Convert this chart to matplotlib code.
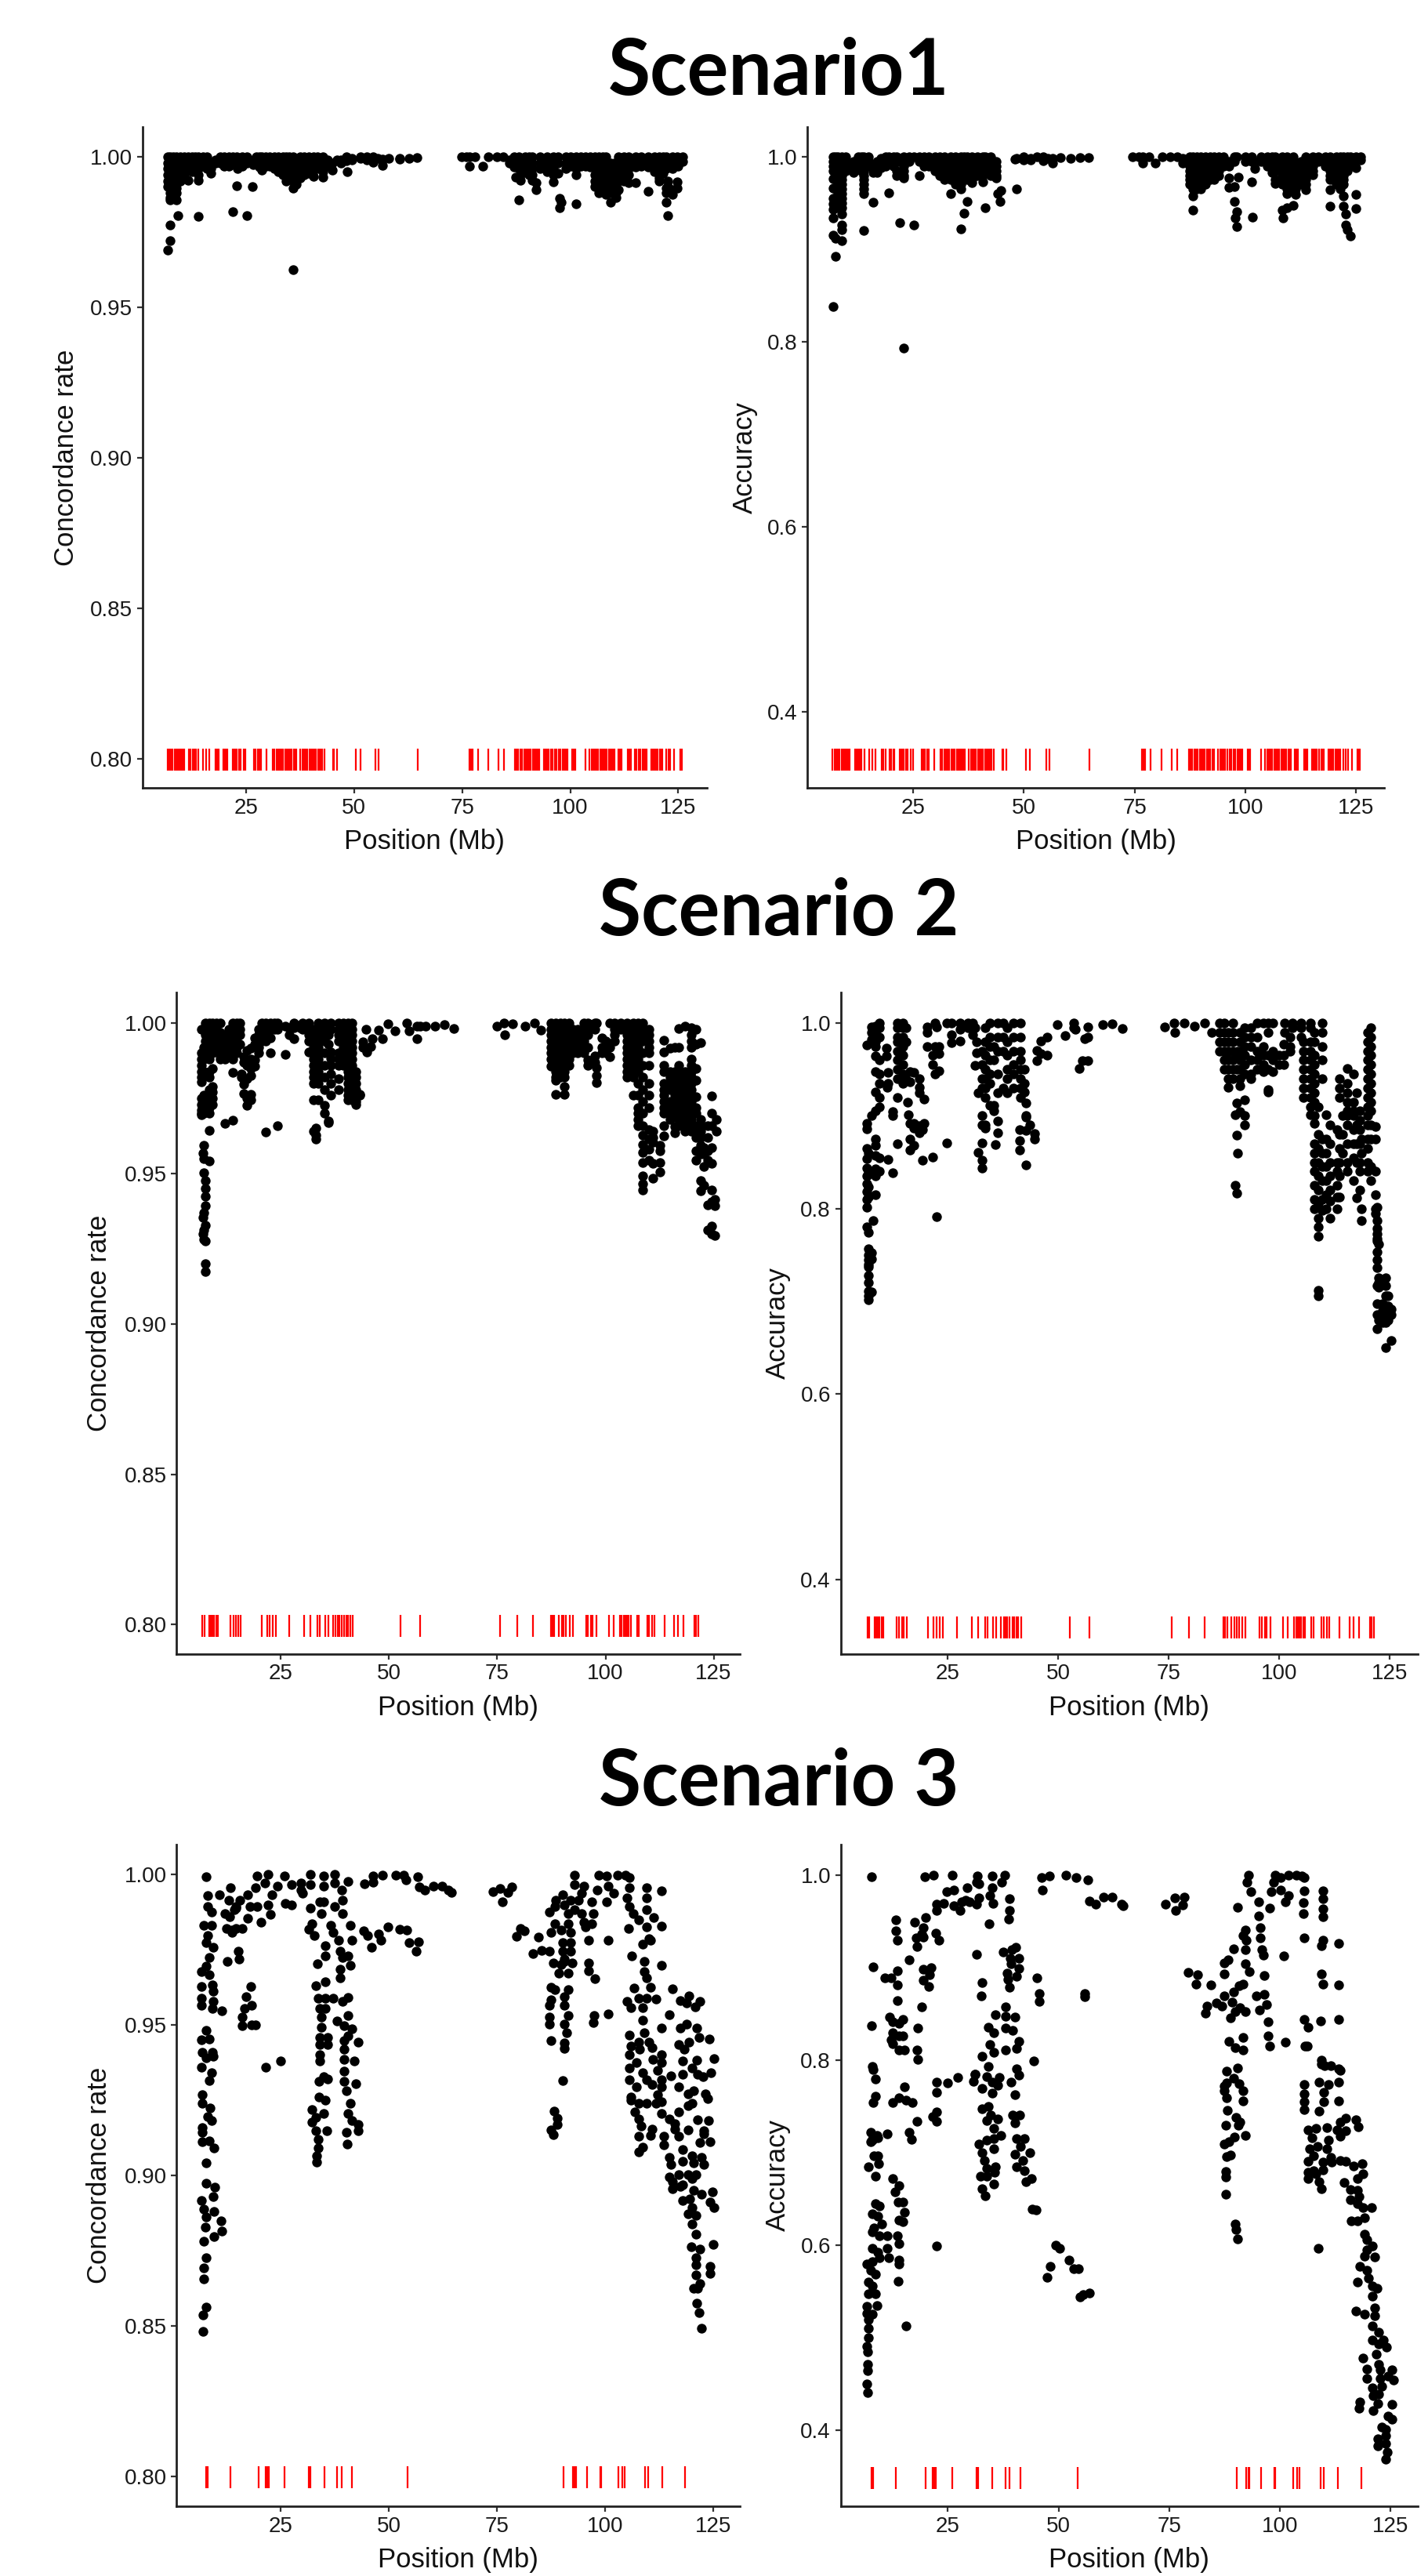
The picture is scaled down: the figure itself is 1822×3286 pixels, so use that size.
import matplotlib
matplotlib.use('Agg')
import matplotlib.pyplot as plt
import numpy as np

plt.rcParams['font.family'] = ['Liberation Sans', 'DejaVu Sans']

# marker positions (Mb), shared by both panels of a scenario
s1_markers = [6.8,7.2,7.6,8,8.4,8.8,9.2,9.6,10,10.3,10.6,11.8,12.2,12.6,13,13.3,14,15,15.7,16.5,17.9,18.3,18.7,19.7,20.1,20.5,20.7,
    21.9,22.3,22.6,22.9,23.4,23.7,24.5,24.9,26.9,27.2,27.7,28.1,28.5,29.7,31.2,31.6,32,32.4,32.8,33.2,33.6,34,34.4,34.8,35.2,35.6,36,36.3,36.6,
    37.6,38,38.4,38.8,39.2,39.6,40,40.4,40.8,41.2,41.6,42,42.3,42.6,43.2,45.1,45.4,46.1,50.4,51.4,55,55.7,64.8,76.7,77,77.4,78.6,81.1,83.4,84.6,
    87.2,87.6,88,88.5,88.9,89.3,89.7,90.1,90.5,90.9,91.3,91.7,92.1,92.5,92.9,93.9,94.3,94.7,95.1,95.5,95.9,96.4,96.8,97.3,97.8,98.2,98.6,99,99.3,
    100.5,100.8,101.1,103.5,104.5,104.9,105.3,105.7,106.1,106.5,106.9,107.3,107.7,108.1,108.5,108.9,109.3,109.7,110,110.3,111.1,111.5,111.8,113.3,113.7,114,
    115,115.4,115.8,116.2,116.7,117.1,117.4,117.7,118.7,119.1,119.5,119.9,120.3,120.7,121.1,121.4,122.2,122.7,123.2,124,125.4,125.7,125.9]
s2_markers = [6.8,7.3,8.4,8.8,9.2,9.6,10,10.4,13.4,14,14.6,15.1,15.7,20.6,21.8,22.4,23.1,23.8,27,30.4,31.8,33.5,34,35.3,35.9,37,37.7,38.1,38.5,39,39.6,
    40.1,40.6,41,41.6,52.7,57.1,75.7,79.6,83.2,87.4,87.8,88.2,89.2,89.9,90.4,90.9,91.7,92.4,95.6,96,96.7,97.1,98,100.9,101.9,103.4,103.8,104.2,104.6,105,105.4,105.9,
    107.3,107.7,109.6,110,110.7,111.3,113.6,115.9,116.8,118.1,120.5,120.9,121.4]
s3_markers = [7.8,8.1,13.3,19.9,21.5,21.9,22.3,25.9,31.5,31.8,35.1,38,39,41.4,54.3,90.3,92.5,92.9,93.2,95.8,98.8,99,103.1,104,104.5,109.2,109.9,113.2,118.5]

# scenario 1, (position, [values at that position])
s1_conc = [(6.9,[.969,1,.998,.996,.994,.992,.99]),(7.4,[1,.9985,.997,.9955,.994,.9925,.991,.9895,.988,.9865,.9857,.9774,.9722]),
    (8.2,[1,.998,.996,.994,.992,.99,.988,.987]),(8.8,[1,.9985,.997,.9955,.994,.9925,.991,.9895,.988,.9857]),(9.2,[.9804]),
    (9.8,[1,.998,.996,.994,.992]),(10.6,[1,.998,.996,.994]),(11.6,[1,.998,.996,.9923]),(12.5,[1,.998,.996,.995]),(13.2,[1,.998,.996]),
    (14,[1,.998,.996,.994,.9923,.9803]),(15,[1,.998,.997]),(16,[1,.998,.996]),(16.8,[.9945,.996,.998]),(18,[.999,.998]),(19,[1,.998]),
    (20,[1,.998,.997]),(21,[1,.998,.997]),(21.9,[1,.998,.9819]),(22.8,[1,.998,.997,.9903]),(23,[.996]),(24,[1,.998,.997]),(25.2,[1,.998,.9806]),
    (26.5,[.9901]),(26.7,[.9974,.999]),(27.3,[1,.998]),(28,[1,.998,.9965]),(28.7,[.9955,1]),(29.5,[1,.998,.997]),(30.5,[1,.998,.997]),
    (31.5,[1,.998,.996]),(32.5,[1,.998,.996,.995]),(33.5,[1,.998,.996,.994]),(34.2,[1,.998,.996,.994,.992]),(35,[1,.998,.996,.994]),
    (35.8,[.9626,.9897,.992,.994,.996,.998,1]),(36.6,[.9909,.993,.995,.997,.999]),(37.5,[1,.998,.996,.994,.993]),(38.5,[1,.998,.996,.994]),
    (39.5,[1,.998,.996,.9945]),(40.6,[1,.998,.996,.9935]),(41.5,[1,.998,.996]),(42.8,[1,.998,.996,.995,.9932]),(43.8,[.999,.997]),(44.9,[.9955,.998]),
    (46,[.999]),(47,[.999,.998]),(48.2,[1,.9987]),(48.4,[.995]),(49.5,[.9995,.999]),(51.5,[1,.9995]),(53,[1,.999]),(54.3,[1,.9983]),(55.5,[.9995]),
    (56.5,[.9992,.9972]),(58,[.9995]),(60.5,[.9996,.9991]),(62.7,[.9994]),(64.5,[.9997]),
    (74.8,[1]),(76,[1]),(76.7,[.9968,1]),(78,[1]),(79.7,[.9968]),(81,[1]),(83,[1]),(84.5,[1]),(86,[.999,.998]),
    (87,[1,.998,.9965]),(87.4,[.9932]),(88.1,[1,.998,.996,.9858]),(88.4,[.9923,.994]),(89.5,[1,.998,.996]),(90.5,[1,.998,.996,.994]),
    (91.2,[1,.998,.996,.994,.9923]),(92.1,[.989,.9915]),(93,[1,.998,.996]),(94.6,[1,.998,.996,.995]),(96.1,[1,.998,.996,.9917,.994]),(97.1,[1,.998,.9945]),
    (97.6,[.9861,.983]),(98,[.985]),(99,[1,.998,.996]),(100,[1,.998,.997]),(101.3,[1,.998,.996,.9939,.9843]),(102.5,[1,.998,.997]),(103.5,[1,.998,.997]),
    (104.7,[1,.998,.9965]),(105.8,[1,.998,.996,.9902,.994,.992]),(106.6,[1,.998,.996,.994,.992,.99,.988]),(107.5,[1,.998,.996,.994,.992,.99]),
    (108.3,[1,.998,.996,.994,.992,.99,.9874]),(109.3,[.998,.996,.994,.992,.99,.988,.9848]),(110.2,[.998,.996,.994,.992,.99]),(110.6,[.9865,.988]),
    (111.1,[1,.998,.996,.994,.992,.9891]),(112.5,[1,.998,.996,.994,.992]),(113.5,[1,.998,.996,.994,.9915]),(115.2,[1,.998,.9965,.9913]),(116.5,[1,.998,.997]),
    (118,[1,.998,.9965,.9885]),(119.5,[1,.998,.9965,.995]),(120.5,[1,.998,.9965,.995,.993,.992]),(121.5,[1,.998,.996,.9945]),(122.2,[1,.998,.996,.9895,.988,.9848]),
    (122.5,[.9804,.992,.99]),(123.7,[1,.998,.996,.9874,.989]),(124.7,[1,.998,.9917,.9897]),(125,[.997,.9985]),(126,[1,.9985])]

s1_acc = [(6.9,[1,.995,.99,.985,.976,.966,.955,.949,.943,.934,.915,.838]),(7.4,[1,.995,.99,.985,.98,.912,.8925]),
    (8,[1,.995,.99,.985,.98,.975,.97,.965,.96,.955,.95,.945]),(8.9,[1,.995,.99,.985,.98,.975,.97,.965,.96,.955,.95,.945,.9378,.9264,.9208,.9095]),
    (9.8,[1,.995,.99,.985]),(11.5,[.995,.99,.983]),(12.5,[1,.995,.99]),(13.3,[1,.995,.99,.985]),(13.9,[1,.995,.99,.985,.98,.975,.97,.965,.96,.92]),
    (14.8,[1,.995,.99]),(15.9,[.99,.983,.951]),(16.8,[.995,.983]),(17.8,[.998,.993,.988]),(18.7,[1,.995,.99]),(19.5,[1,.995,.961]),(20.5,[1,.995,.99]),
    (21.2,[1,.995,.985,.98]),(21.9,[.9287,.995]),(22.8,[1,.995,.99,.985,.98,.977,.7935]),(24,[1,.995]),(25.2,[1,.9259]),(26.4,[1,.995,.9793]),(27.5,[1,.995,.99]),
    (28.5,[1,.995,.99]),(30,[1,.995,.99,.985]),(31,[1,.995,.99,.985,.98]),(32,[1,.995,.99,.985,.98,.975]),(33.5,[1,.995,.99,.985,.98,.975,.9598]),
    (34.5,[1,.995,.99,.985,.98,.975,.97]),(35.8,[1,.995,.99,.985,.98,.975,.97,.965,.922]),(36.5,[1,.995,.99,.985,.98,.975,.9392]),(37.2,[1,.995,.99,.985,.98,.975,.9513]),
    (38.3,[1,.995,.99,.985,.98,.975,.9717]),(39.5,[1,.995,.99,.985,.98]),(40.7,[1,.995,.99,.985,.98,.9731]),(41.2,[1,.995,.99,.9446]),(42.5,[1,.995,.99,.985,.98]),
    (43.8,[.995,.99,.985,.98,.9768]),(44.1,[.9604]),(44.6,[.9519]),(44.8,[.9638]),(48,[.9975]),(48.4,[.9652,.998]),(50,[1,.997]),(51.5,[.998,.997]),
    (53,[1]),(54.4,[1,.996]),(55.5,[.998]),(56.5,[.993,.998]),(58.3,[.999]),(60.5,[.998]),(62.7,[.999]),(64.6,[.9995]),
    (74.6,[1]),(76,[1]),(76.8,[.997,.993,1]),(78.3,[1]),(79.7,[.993]),(81.2,[1]),(83,[1]),(84.6,[1]),(85.8,[.993,.998]),
    (87.5,[1,.995,.99,.985,.98,.975,.97]),(88.2,[1,.995,.98,.97,.965,.9576,.9426]),(89,[1,.995,.99,.985,.98,.975,.97,.965]),(90,[1,.995,.99,.985,.98,.975,.97,.965]),
    (91,[1,.995,.99,.985,.98,.975,.97]),(92,[1,.995,.99,.985,.98,.975]),(93,[1,.995,.99,.985,.98,.975]),(94,[1,.995,.99,.985,.98]),(95,[1,.995,.99]),
    (96.3,[.995,.99,.9768,.967]),(97.5,[1,.995,.968,.9513]),(98.1,[1,.9406,.9245]),(97.7,[.9335]),(98.4,[.978]),(100,[1,.995]),(101.4,[1,.995,.9731]),(101.6,[.9349]),
    (102.1,[.995,.9873]),(103.5,[1,.995]),(105,[1,.995,.99]),(106,[1,.995,.99,.983]),(106.8,[1,.995,.99,.985,.975,.9709]),(108.3,[1,.995,.99,.985,.98,.975,.97,.942]),
    (108.5,[.9335]),(109.4,[1,.995,.99,.985,.98,.975,.97,.965,.9604,.9448]),(110.9,[1,.995,.99,.985,.98,.975,.97,.965,.9471]),(111.4,[.985,.98,.975,.97,.965,.959]),
    (112.5,[.995,.99,.985,.98,.975,.97]),(113.6,[1,.995,.99,.985,.98,.975,.97,.9646]),(115.3,[1,.995,.99,.985,.9802]),(116.5,[1,.995]),(118,[1,.995,.99]),
    (119.2,[1,.995,.99,.985,.98,.975,.9646,.9468]),(120.5,[1,.995,.99,.985,.98,.975,.97]),(121.5,[1,.995,.99,.985,.98,.975,.97,.965]),
    (122.2,[1,.995,.99,.985,.98,.975,.97,.9576,.9463]),(122.7,[.9378,.9264]),(123,[1,.995,.985,.9208]),(123.8,[1,.995,.99,.9146]),(124.9,[1,.995,.9885,.959,.944]),(126,[1,.997])]

# scenario 2
s2_conc = [(6.6,[.998,.99,.988,.986,.984,.982,.9805,.975,.973,.971,.97,.9695]),(7.2,[.992,.988,.984,.976,.974,.972,.97,.9594,.955,.9502,.937,.9311,.928]),
    (7,[.9567,.9354,.9298]),(7.6,[1,.998,.996,.994,.992,.9476,.945,.9424,.9393,.9328,.9276,.92,.9174]),
    (8.5,[1,.998,.996,.994,.992,.99,.988,.984,.982,.978,.976,.974,.972,.97,.9642,.9541]),(9.2,[1,.998,.996,.994,.992,.99,.985,.979,.977,.975,.973]),
    (10,[1,.998,.996,.994,.992]),(11,[1,.997,.995,.993,.991,.989,.988]),(12,[.996,.994,.992,.99,.988,.9666]),(13,[.998,.995,.992,.989]),
    (13.8,[1,.998,.996,.994,.992,.99,.988,.9835,.9678]),(14.8,[1,.998,.996,.994,.992,.99]),(15.6,[1,.998,.996,.993]),(16.5,[.9887,.987,.9796,.9766]),(15.9,[.9831,.982]),
    (17.2,[.991,.986,.9814,.9727,.975]),(18,[.9918,.988,.985,.9827,.9763,.9746]),(19,[.995,.993,.9879,.9857]),(19.8,[.998,.996,.994,.992,.99]),(20.5,[1,.998,.996,.994]),
    (21.5,[1,.998,.996,.994,.9638]),(22.6,[1,.998,.995,.9902]),(23.5,[1,.998]),(24.3,[1,.998,.9659]),(26,[.999,.9896]),(27,[.9985,.996]),(28,[1,.9985,.9948]),
    (29.5,[.999,.9985]),(30,[1,.998]),(31.4,[1,.998,.9905,.996,.994]),(32.5,[.998,.996,.994,.992,.99,.988,.986,.984,.982,.98,.9744,.964]),(33,[.9627,.9614,.965]),
    (33.7,[1,.998,.996,.994,.992,.99,.988,.986,.984,.982,.98,.9744]),(35,[1,.998,.996,.994,.99,.986,.982,.978,.9727,.97]),(36,[.9985,.996,.993,.9668,.9675]),
    (36.6,[1,.998,.9905,.9883,.986,.9831,.98,.976]),(38.4,[1,.998,.996,.994,.99,.988,.986,.9814,.9779]),(39.5,[1,.998,.996,.994,.992,.99,.988,.986]),
    (40.6,[1,.998,.996,.994,.992,.99,.988,.986,.984,.982,.98,.978,.976,.9744]),(41.5,[1,.998,.996,.994,.992,.99,.988,.986,.984,.982,.98,.978,.976,.9744]),
    (42.3,[.984,.982,.98,.978,.976,.974,.973]),(43.2,[.976,.9762]),(44.6,[.998]),(44,[.9939,.992]),(44.9,[.9905]),(45.7,[.9922]),(46.2,[.9948]),(48.4,[.9948]),(47.5,[.9978]),
    (49.7,[.9997]),(51.3,[.9974]),(54.1,[1]),(54.6,[.9974]),(56.5,[.9948,.999]),(57.2,[.9991]),(58.5,[.9989]),(60.6,[.9991]),(62.7,[.9994]),(65,[.9983]),
    (74.9,[.9991]),(76.6,[1]),(76.8,[.9961]),(78.6,[.9997]),(81.5,[.9991]),(83.7,[1]),(85,[.9978]),
    (87.5,[1,.998,.996,.994,.992,.99,.988,.9857]),(88.5,[1,.998,.996,.994,.992,.99,.988,.986,.984,.982,.981,.9763]),(89.5,[1,.998,.996,.994,.992,.99,.988,.986,.984,.982]),
    (90.5,[1,.998,.996,.994,.992,.99,.988,.986,.984,.982,.9788,.9762]),(91.5,[1,.998,.996,.994,.992,.99,.988,.986]),(92.5,[.998,.996,.994,.992,.99]),(93.5,[.998,.996,.994,.992,.99]),
    (95,[1,.998,.996,.994,.992,.99]),(96,[1,.998,.996,.992,.9879,.986]),(97.5,[1,.998,.9892,.987]),(98,[1,.9853,.9827,.9801]),(99.2,[.995,.992,.99]),(100,[.994,.99]),
    (101,[1,.9887,.992]),(102,[1,.998,.996,.994]),(103.5,[1,.998]),(105,[1,.998,.996,.994,.992,.99,.988,.986,.984,.982]),(106.5,[1,.998,.996,.994,.992,.99,.988,.986,.984,.982,.976]),
    (107.5,[1,.998,.996,.994,.992,.99,.988,.986,.984,.98,.976,.972,.97,.968,.966]),(108.6,[1,.998,.996,.994,.99,.986,.982,.978,.974,.97,.966,.9627,.9597,.957,.9536,.9493,.9467,.9445]),
    (110,[.998,.996,.994,.992,.99,.986,.98,.976,.972,.9645,.9615,.958,.9545]),(111,[.964,.962,.9603,.9535,.9484]),(112.5,[.9595,.9575,.9536,.9505]),
    (113.5,[.9944,.9905,.986,.984,.98,.978,.976,.974,.972,.97,.966,.9625]),(115,[.9918,.984,.982,.98,.978,.974,.972,.97,.968]),(116,[.992,.984,.982,.98,.978,.976,.974,.972,.97,.9655,.9635]),
    (117,[.9983,.992,.986,.984,.982,.98,.978,.976,.974,.972,.97,.968,.966]),(118.3,[.9991,.984,.982,.98,.978,.976,.974,.972,.97,.968,.966,.964]),
    (119.8,[.9985,.996,.994,.992,.988,.986,.984,.982,.98,.978,.976,.974,.972,.97,.968,.966,.964]),(121,[.998,.993,.985,.981,.9755,.972,.97,.966,.964,.962,.9575,.9545]),
    (122,[.9935,.968,.966,.964,.962,.9595,.9565,.9477,.9443]),(122.8,[.9585,.9565,.9523,.9462]),(123.7,[.966,.962,.9575,.9545,.9395,.9313]),
    (124.5,[.9759,.97,.966,.9585,.9533,.9445,.9405,.9325,.93]),(125.3,[.9415,.9393,.9295]),(125.7,[.968,.964])]

s2_acc = [(6.6,[.976,.8915,.886,.8648,.8535,.8437,.8352,.8268,.8183,.8099,.8014,.7803]),(7,[.7746,.7563,.75,.745,.74,.737,.728,.72,.7113,.7056,.7014,.812,.823,.84,.86]),
    (7.8,[.996,.99,.982,.9,.752,.746,.71]),(8.1,[.7868]),(8.7,[.997,.99,.98,.975,.9648,.9479,.9254,.9056,.875,.868,.857,.843,.835,.815]),
    (9.5,[1,.995,.985,.96,.945,.935,.92,.91,.855,.84]),(11.2,[.9732,.9648]),(11.5,[.947,.935,.853]),(11.3,[.931]),(12.6,[.9042,.9,.8386]),(13.6,[1,.995,.985,.98,.97,.96,.95,.94,.9197,.8696]),
    (14.8,[1,.995,.985,.975,.965,.955,.945,.935]),(15.6,[.9394,.995,.98]),(15.9,[.9146]),(16.1,[.9014]),(16.5,[.9479,.937,.8915,.875,.8634]),(17.3,[.947,.8915,.8865,.868]),(18.5,[.94,.931,.925,.8895,.882]),
    (19.2,[.8521,.8855]),(19.7,[.9183,.8915]),(20.4,[.9901,.9958,.975]),(21.5,[.8558,.965,.955]),(22.1,[1,.975,.945]),(22.5,[.7915,.9958]),(23,[.975,.967,.9483]),(24.8,[.871,1]),(25.9,[1,.9873,.9789]),
    (27.7,[1,.9803,.993]),(29.5,[1,.995]),(30.7,[1,.9873]),(31.1,[.9541,.995]),(31.5,[.9676,.98]),(31.9,[.8606,.925]),(32.8,[.93,.9,.89,.8704,.8521,.8437,.97,.955,.94]),
    (33.5,[.995,.98,.965,.95,.94,.93,.92,.89,.8865]),(34.5,[1,.985,.975,.96,.945,.935,.9113]),(35.4,[.975,.96,.9113,.905]),(35.8,[.869]),(36.3,[1,.985,.97,.945,.925,.8944,.8817]),
    (37.5,[1,.985,.97,.93]),(38.5,[.995,.98,.965,.95,.94,.925]),(39.8,[1,.985,.97,.955,.945,.93]),(41.4,[1,.985,.97,.96,.95,.94,.93,.92]),(41.2,[.8634,.873,.885]),(42.3,[.95,.935,.9254]),
    (42.7,[.9141,.9,.8986,.8473,.8845]),(43.6,[.8901]),(44.6,[.8746,.881]),(45.1,[.9705,.9592]),(46,[.981,.967]),(47.5,[.985,.965]),(49.8,[.998]),(51.6,[.9868]),(53.5,[1,.995]),(53.9,[.993]),
    (54.8,[.9507]),(55.5,[.9592]),(56,[.9831]),(56.7,[.9592,.9958,.985]),(60,[.998]),(62.2,[.999]),(64.5,[.9944]),
    (74.1,[.9958]),(76.2,[1]),(76.4,[.9901]),(78.5,[1]),(80.8,[.997]),(83.2,[1]),(84.7,[.9901]),(86.5,[1,.99,.98,.97]),(87.5,[1,.99,.98,.97,.96,.95]),(88.5,[.99,.98,.97,.96,.95,.94,.931]),
    (89.5,[1,.99,.98,.97,.96,.95,.94]),(90.4,[.9141,.8789,.8169,.965,.95]),(90.6,[.97,.8597]),(90,[.8254,.9014]),(91.1,[.99,.98,.97,.96,.95,.94,.9324,.9045]),(92.2,[.995,.985,.975,.965,.955,.945,.9169,.8901,.9]),
    (93.5,[.995,.985,.975,.96,.945,.94]),(95,[1,.985,.97,.96,.95]),(96.5,[1,.975,.965,.955,.948]),(97.5,[1,.99,.9259,.9285,.965,.95]),(98.5,[1,.97,.96,.948]),(99.9,[.965,.955]),(101,[.977,.965,.955]),(102.4,[.985,.975,.97]),
    (101.2,[1,.99]),(103,[1,.995]),(105,[1,.995,.985]),(105.5,[.98,.97,.96,.95,.94,.93,.92]),(107,[.98,.97,.96,.95,.94,.93,.92,.91,.9014,1,.995]),(108,[.99,.98,.965,.955,.945,.935,.925,.915,.9,.8915,.87,.86,.85,.84,.825,.81,.8]),
    (108.9,[.7056,.712,.91,.88,.865,.85,.835,.82,.805,.79,.78,.77]),(109.8,[1,.99,.975,.96,.94,.875,.86,.845,.83,.81,.798]),(110.6,[.9014,.875,.86,.845,.83,.815,.8]),(111.5,[.89,.87,.85,.835,.82,.808,.79]),
    (113,[.885,.85,.84,.825,.812,.8]),(113.6,[.94,.93,.92,.88,.865,.85,.835,.812]),(114.4,[.9,.88,.86]),(115.4,[.9507,.935,.925,.915,.905,.9,.89,.87,.85,.84]),(116.8,[.945,.915,.905,.9,.885,.87,.855,.83]),
    (117.5,[.8113,.925,.89,.87,.85]),(118.2,[.905,.895,.885,.87,.85,.84,.82]),(118.6,[.7873,.8,.86,.875]),(120,[.99,.98,.97,.96,.95,.94,.93,.92,.91,.9,.89,.875,.865,.85,.84]),(120.8,[.995,.985,.975,.965,.955,.945,.935,.925,.915,.905,.89,.875,.845,.83]),
    (121.7,[.8885,.875,.84,.815,.795,.8]),(122.1,[.8014,.7873,.7789,.7725,.768,.7648,.7535,.7451,.7366,.7169,.6704,.6972,.6859]),(122.5,[.7615,.7254,.715,.685,.68,.72]),(123.3,[.6972,.69,.68,.6775]),(124,[.7169,.7056,.695,.685,.6775,.6501,.7254,.6859]),
    (124.7,[.7056,.695,.6859,.68]),(125.3,[.6859,.6915,.6577])]

# scenario 3
s3_conc = [(7.7,.9991),(8.1,.9929),(8.1,.9893),(9,.9876),(7.2,.9831),(9,.9831),(8.1,.9797),(7.7,.9774),(9.4,.9757),(8.5,.9724),(7.7,.9695),(6.6,.9676),(8.5,.9667),(6.6,.9628),(9.2,.9633),(9.4,.9611),
    (6.6,.9588),(6.6,.9566),(9.4,.9577),(9.2,.9554),(11.4,.9547),(7.8,.9481),(6.6,.945),(8.5,.9453),(6.8,.9410),(9.2,.9410),(7.7,.939),(9.4,.9396),(6.6,.9360),(9,.934),(8.5,.9314),
    (6.8,.9267),(6.8,.9239),(8.7,.9225),(8.1,.9196),(9,.9182),(6.8,.9160),(6.8,.9143),(6.9,.9111),(8.5,.9115),(9.6,.9092),(7.8,.9041),(7.7,.8974),(9.8,.8962),(9.4,.8929),(6.6,.8917),(7.2,.8889),(9.6,.888),(7.7,.8861),
    (11.2,.8849),(7.5,.8827),(11.3,.8815),(9.6,.8798),(7.2,.8782),(7.7,.8726),(7.2,.8692),(7.2,.8655),(7.7,.8563),(7,.8537),(7.1,.8481),
    (13.4,.9957),(10.9,.9932),(12.9,.9915),(12,.9869),(14.7,.9893),(15.6,.9915),(13.2,.9859),(12.5,.9820),(13.8,.9808),(14.7,.982),(16,.9820),(14.7,.9887),(15.1,.9745),(15.3,.9718),(12.7,.9710),(14.2,.9882),(13.8,.9814),
    (17.3,.9932),(17.8,.9893),(17.3,.9853),(19.5,.9893),(19.1,.9955),(19.5,.9994),(22.1,1),(21.3,.9972),(22.1,.9898),(20.4,.9842),(22.6,.9868),(24.3,.9960),(23,.9932),(25.9,.9994),(26.1,.9904),(27.4,.9966),(27.4,.9898),
    (29.6,.9972),(30,.9938),(31.8,.9999),(31.8,.9966),(29.6,.9949),
    (18,.9628),(16.9,.9594),(18.2,.9566),(16.6,.9554),(16,.9526),(16,.9498),(18.2,.95),(19.2,.95),(21.5,.9360),(24.9,.9380),
    (34.9,.9994),(34,.9910),(34.9,.9960),(37.5,1),(37.5,.9972),(40.6,.9977),(39,.9949),(34.9,.9910),(37.5,.9893),(39.3,.9915),(31.8,.9887),(34.4,.9870),(39.3,.9870),(32.2,.9836),(31.4,.9817),(36.6,.9831),(41,.9831),
    (32.7,.9797),(37.1,.9808),(38.4,.978),(35.3,.9763),(41.5,.978),(44.1,.9812),(45,.9797),(45.9,.9758),(47.6,.9803),(48.1,.978),(49.8,.9825),(52.4,.9819),(54.2,.9816),(54.6,.9774),(56.8,.9777),(56.2,.9746),
    (44.3,.9968),(46.3,.9994),(46.3,.9973),(48.5,.9998),(51.6,.9998),(53.3,.9998),(54,.9983),(56.6,.9992),(57,.9958),(58.3,.9947),(60.2,.996),(62.3,.996),(63.8,.9949),(64.5,.9939),
    (35.3,.9729),(38.8,.9746),(39.3,.9724),(40.6,.973),(41,.9698),(33.5,.9704),(38.8,.9684),(38.8,.9656),(35.3,.9642),(33.1,.9631),
    (33.6,.9588),(35.3,.9588),(37,.9588),(34,.9554),(35.3,.9554),(34.4,.9526),(34.4,.9492),(34,.9458),(35.8,.9458),(34,.9436),(35.8,.9436),(34,.9402),(34,.938),
    (40.6,.9590),(39.3,.9577),(40.6,.9531),(38,.9512),(39.7,.9498),(41.5,.9487),(40.6,.9464),(42.8,.9442),(39.7,.9447),(39.7,.9419),(39.7,.9385),(41.9,.9380),(39.7,.9346),(42.4,.9306),(39.7,.9313),(40.1,.9282),(41,.9239),(40.6,.9205),
    (42.8,.917),(41.5,.9182),(40.1,.9143),(42.8,.9149),(40.4,.9105),(34.9,.9329),(35.9,.9321),(33.8,.9312),(33.8,.926),(35.3,.9249),(32.2,.922),(34.9,.9205),(33.1,.9194),(32.2,.9177),(33.1,.9149),(35.6,.9149),(33.6,.9120),(33.6,.9092),(33.3,.9064),(33.3,.9045),
    (74,.9943),(75.7,.9954),(78.3,.9958),(77.5,.9940),(76.3,.9910),(79.5,.9794),(80.3,.982),(81.2,.9812),(84.5,.9791),(83.2,.9737),(85.3,.9748),(87.1,.9746),(88,.9707),(89.3,.9673),(91.5,.9673),(90.6,.9712),
    (92.8,.9998),(92.8,.9966),(95,.996),(98.5,.9998),(100.3,.9994),(98.1,.9949),(100.7,.996),(102,.9938),(100.3,.9910),(96.8,.9910),(102.8,.9998),(104.6,.9998),(105.5,.9989),(105.5,.9955),(105.1,.9921),(105.5,.9893),(106.4,.987),
    (109.5,.9955),(109.5,.9921),(109.5,.9882),(113,.9946),(111.1,.9857),(113,.9829),(107.7,.9848),(105.4,.9820),(109.5,.9825),(110,.9786),(108.6,.9769),(110.4,.978),(100.7,.978),(96.1,.9780),
    (88.6,.9915),(90.2,.9932),(92,.9915),(93.7,.9915),(94.6,.9938),(87.1,.9876),(88.4,.9893),(91.5,.9870),(92.8,.9882),(94.6,.987),(97.3,.987),(95,.9842),(96.8,.9836),(88.4,.9836),(91.5,.9836),(87.5,.9808),(89.8,.9814),(92,.9808),(95.5,.9825),(90.6,.9898),
    (90.2,.9774),(91.9,.9774),(90.2,.9746),(91.9,.9746),(90.6,.9718),(92.4,.9707),(89.8,.9701),(96.2,.9707),(96.2,.9681),(97.6,.9654),(106.1,.9729),(113,.9698),(109,.9712),(109,.9678),(109.5,.9656),
    (87.5,.9624),(88.4,.9616),(91.5,.9616),(90.6,.9594),(87.5,.9583),(87.1,.9566),(90.6,.9566),(91.5,.9532),(87.1,.9526),(87.1,.9503),(90.6,.9503),(91,.9475),(87.5,.9447),(90.6,.9441),(90.6,.9421),(97.4,.9532),(97.2,.9509),(100.7,.9537),
    (90.2,.9316),(88.2,.9213),(88.9,.919),(88.9,.9168),(87.5,.9152),(88,.9135),
    (106.7,.9622),(110.4,.9624),(115.6,.962),(119.4,.9597),(117.4,.9582),(118.7,.9574),(121.8,.9577),(120.7,.956),(105.1,.9577),(106,.9558),(107.7,.9588),(109.5,.9588),(111.7,.9586),(108.6,.9558),(108.6,.9515),(114.8,.9534),
    (113,.9489),(117.4,.9489),(118.7,.9503),(121.1,.949),(105.5,.9467),(109,.9475),(107.7,.9442),(110,.9442),(110.9,.9425),(105.9,.9430),(124,.9453),(121.6,.9459),(119.4,.9444),(117,.9436),(118.2,.9419),(105.5,.9402),(108,.9419),
    (113,.9402),(113,.9374),(125.1,.9389),(121.2,.9383),(117.9,.9379),(105.5,.9357),(107.2,.9374),(108.6,.9340),(111,.9385),(112.1,.935),(113,.9318),(115.2,.933),(117.9,.9335),(120,.9357),(121.4,.9335),(124.4,.9340),(122.5,.9327),
    (105.5,.9318),(107.2,.9295),(109.5,.9318),(110.9,.9301),(113,.9295),(112.1,.9267),(116.9,.9293),(120.5,.9282),(119.2,.927),(123.2,.927),(123.6,.9256),(106,.9250),(107.7,.9239),(106,.9261),(109.5,.9239),(111.7,.9239),(113,.9244),
    (120,.9239),(119.2,.9233),(106.8,.9211),(113,.9205),(117,.9211),(107.7,.9188),(114.8,.9188),(116.1,.9171),(121.4,.9184),(123.8,.9182),(108.2,.9165),(110.9,.9154),(119.2,.9151),(116.1,.9154),(107.7,.913),(110.4,.9134),(122.7,.9149),(122.8,.9137),(113.5,.913),(117,.913),
    (113.5,.9102),(121.8,.9109),(124.3,.9113),(107.7,.9078),(108.6,.9095),(117.9,.9086),(114.8,.9060),(120,.9064),(122.2,.906),(115.2,.9036),(117.9,.9047),(120.5,.9041),(122.7,.9036),(114.8,.8996),(117,.9002),(119.2,.9002),(120.9,.9002),
    (115.6,.898),(117.9,.8968),(120,.899),(115.6,.8957),(117.4,.8963),(120.5,.8951),(117.9,.8917),(119.6,.8923),(122.2,.8937),(124.7,.8946),(120,.8894),(124.3,.8911),(125.2,.8894),(119.2,.8872),(120.9,.8867),(120,.8838),(120.9,.8805),
    (125,.8771),(119.9,.8763),(121.8,.8754),(120.9,.8726),(120.9,.8703),(124.3,.8697),(124.3,.8675),(120.9,.8669),(121.8,.8641),(120.5,.8624),(121.4,.8624),(121.2,.8576),(121.6,.8545),(122.2,.8492)]

s3_acc = [(7.7,.9983),(19.8,.9983),(21.7,1),(25.9,.9996),(31.7,.9991),(35,.9991),(37.8,1),(46.2,.9970),(47.9,.9991),(51.7,1),(53.9,.9978),(56.7,.9948),(46.4,.9840),(37.1,.9927),(31.5,.9927),
    (24.7,.9818),(26.4,.9840),(29.4,.9862),(32,.9905),(35,.9862),(34.5,.9775),(29,.9732),(32,.9754),(28.1,.971),(29.8,.971),(31.5,.9689),(35.2,.9697),(39,.9745),(24,.9697),(22.5,.9684),(22.5,.9619),(26.4,.9667),(27.7,.9619),
    (19.9,.9541),(17.4,.9489),(34.4,.9472),(39,.9619),(38.8,.9524),(13.2,.9516),(19.5,.9429),(19.1,.9364),(13.2,.9399),(22.3,.9373),(13.5,.9299),(17.8,.9321),(19.5,.933),(23,.9295),(18,.9230),(31.5,.9143),(16.3,.9083),(8.1,.901),
    (13.5,.8962),(19.5,.8984),(21.2,.8997),(20.8,.8923),(19.5,.8867),(10.7,.8888),(12.2,.8888),(13.5,.8811),(20.6,.8793),(38.4,.8940),(38.6,.8875),(39,.8789),(40.4,.9222),(39.5,.9192),(39.1,.9105),(37.5,.9166),(41.1,.9105),(39.3,.9040),(41,.8988),
    (40.6,.8906),(32.8,.8836),(32.6,.8694),(45.1,.8893),(45.6,.8719),(45.7,.8633),(56,.8724),(56,.8685),
    (13.5,.8642),(19.1,.8577),(11.8,.8462),(14.8,.8443),(12.6,.8418),(14,.8396),(18.2,.8348),(12.6,.8297),(13.9,.8262),(14.8,.8262),(7.7,.8369),(12.2,.8219),(12.6,.8176),(15.2,.8106),(14,.8106),(18,.8106),(18.2,.8011),(8,.7929),(8.1,.7895),(8.6,.7800),
    (15.2,.7713),(22.4,.7761),(24.9,.7752),(27.2,.7813),(22.4,.7654),(30.7,.7769),(31.1,.7847),(32.7,.7692),(13.9,.7592),(12.6,.7540),(15.6,.7570),(16.9,.7540),(8.7,.7609),(8.1,.7544),(22.4,.7444),(21.5,.7392),(22.4,.7340),(18.1,.7340),(7.5,.7219),(8.9,.7184),(7.9,.7140),
    (16.3,.7219),(16.7,.7141),(11.3,.7202),
    (38,.8577),(35.8,.8491),(38,.8478),(40.1,.8465),(34.1,.8357),(38,.8348),(39.7,.8322),(35.4,.8297),(34.5,.8167),(41,.8202),(40.6,.8124),(38,.8106),(32.8,.8041),(35.4,.8084),(44.4,.7991),(40.6,.7904),(41,.7839),(34.1,.7933),(31.1,.7847),(33.7,.7825),(36.7,.7812),
    (35,.7761),(39.3,.7761),(36.3,.773),(35,.7644),(40.1,.7627),(34.1,.7497),(32.8,.7475),(34.6,.7410),(36.3,.7367),(33.7,.7345),(39.7,.7410),(41.3,.7410),(40.1,.7324),(35.4,.7263),(37,.7189),(35.4,.7155),(33.7,.7133),(32,.709),(35.4,.7046),(32.8,.7003),(33.3,.6916),(33.7,.683),
    (40.6,.7155),(42.3,.7155),(41.4,.7068),(43.6,.7003),(40.1,.6981),(41.9,.6916),(40.6,.6851),(42.3,.6808),(35.8,.6851),(35.6,.6787),(32.4,.6743),(33.7,.6743),(32.8,.6614),(35.4,.6657),(33.4,.6531),(42.7,.6687),(43.8,.672),(44,.6389),(44.9,.638),
    (9.2,.7158),(7.9,.7137),(7.5,.7115),(9.2,.6964),(8.3,.6964),(7,.6848),(9.4,.6878),(8.7,.6748),(12.6,.6718),(13.9,.664),(13,.6575),(13.7,.6467),(14.8,.6467),(15.2,.6359),(13.9,.6273),(14.8,.6251),(8.7,.6446),(9.6,.6424),(7.9,.6337),(9.2,.6316),(10,.6229),
    (8.3,.6186),(7.9,.6143),(9.6,.6100),(11.3,.6100),(13.5,.6100),(13.9,.6013),(22.5,.5991),(7.9,.5970),(9.2,.5927),(11.3,.5970),(11.6,.5862),(9.6,.5862),(13.9,.5841),(13.9,.5797),(6.6,.5797),(7.9,.5819),(7.5,.5732),(8.7,.5689),(13.7,.5612),
    (7,.5602),(7.9,.5559),(7,.5472),(8.7,.5472),(8.9,.5351),(6.6,.5343),(7.9,.5256),(6.6,.5264),(7,.5191),(15.5,.5126),(7,.5105),(7,.4997),(6.6,.4910),(6.8,.4845),(6.8,.4716),(6.8,.4642),(6.6,.4500),(6.8,.4405),
    (47.4,.5654),(48.1,.5775),(49.4,.6003),(50.3,.5968),(52.4,.5839),(53.5,.5744),(54.5,.5744),(54.8,.5438),(55.6,.5464),(56.9,.5481),
    (56.9,.9719),(58.4,.9689),(60.2,.9762),(62.2,.9766),(64.2,.9689),(64.6,.9668),(74.1,.9689),(76.3,.9753),(78.4,.9766),(78,.9676),(76.4,.9615),
    (93,1),(92.6,.9927),(98.9,1),(98.6,.9927),(98,.9819),(100.3,.9970),(102,1),(103.7,1),(105,.9991),(105.5,.9970),(105.5,.9832),(100.3,.9840),(101.2,.9711),(102,.9775),(105.3,.9702),(105.3,.9581),(109.8,.9832),(109.8,.9745),(109.8,.9637),(109.7,.9551),
    (97.8,.9646),(93.4,.9819),(95.2,.9711),(90.5,.9655),(95.2,.9559),(95.6,.9429),(92.2,.9408),(91.7,.9343),(95.6,.9321),(92.4,.9300),(105.5,.9321),(109.8,.9299),(109.4,.9234),(113.4,.9265),
    (89.6,.9200),(92.2,.9191),(95.9,.9191),(96.4,.9139),(100.9,.9127),(88.3,.9083),(87.4,.9053),(92.2,.9040),(87.4,.8932),(93.1,.8954),(79.3,.8945),(81.5,.8923),(81,.8824),(84.4,.8815),(109.4,.8932),(109.8,.8824),(113.3,.8815),
    (96.5,.8911),(91.7,.8824),(90.9,.8802),(89.6,.8737),(96.5,.8715),(94.7,.8694),(97,.8600),(95.4,.8539),(83.2,.8508),(83.6,.8586),(85.7,.8620),(87.4,.8694),(87,.8586),(89.2,.8629),(91,.8564),(88.8,.8456),(90,.8521),(92.2,.8521),
    (105.5,.8443),(106.4,.8357),(109.2,.8422),(113.4,.8443),(97.3,.8413),(97.3,.8262),(97.8,.8149),(101.2,.8197),(91.7,.8249),(88.5,.8206),(89.9,.8132),(91.7,.8110),(105.7,.8154),(106.3,.8154),(109.4,.7997),(110.2,.7940),(113.4,.7908),(88,.7881),(89.6,.7804),
    (90.4,.7915),(88,.7750),(87.4,.7724),(90.9,.7745),(87.5,.7668),(88,.7594),(91.7,.7668),(91.7,.7559),(88.2,.7459),(90.2,.7378),(91,.7334),(87.8,.7300),(90.7,.7295),(92.2,.7190),(89.7,.7165),(87.4,.7096),(88.6,.7118),(88.9,.6975),(88,.6958),(87.9,.6797),(87.9,.6740),(87.9,.6550),
    (90,.6230),(90.2,.6166),(90.4,.6069),(108.7,.5968),
    (109.4,.7957),(111.5,.7944),(113.7,.7892),(105.5,.7741),(108.9,.7763),(111.1,.7741),(113.4,.7763),(105.5,.7633),(109.9,.7655),(105.5,.7547),(109.9,.7547),(113.4,.7555),(108.9,.7451),(105.5,.7470),(115,.7372),(117.2,.7359),(113.7,.7330),(117.7,.7280),
    (106.4,.7244),(108.1,.7265),(110.6,.7273),(113,.7244),(115,.7235),(107.3,.7158),(113.7,.7175),(106.8,.7045),(108.5,.7067),(111.1,.7132),(110.6,.7045),(113.7,.6916),(107.6,.6966),(109.8,.6894),(111.5,.6949),(115,.6907),(106.4,.6907),(111.8,.6894),
    (107.6,.6805),(109.8,.6817),(116.7,.6856),(118.6,.6878),(106.4,.6792),(108.1,.6770),(118.8,.6770),(106.4,.6722),(108.9,.6684),(109.4,.6610),(114.5,.6675),(117.5,.6723),(116,.6602),(117.5,.6593),(118,.6528),(115.9,.6489),(117.5,.6446),(118.8,.6403),(120.8,.6403),
    (119.2,.6295),(116.2,.6260),(117.5,.6260),(119.2,.6121),(119.7,.6056),(121,.5991),(119.7,.5948),(119.2,.5883),(121.4,.5870),(118.1,.5767),(119.7,.5732),(120.1,.5646),(117.5,.5602),(121,.5559),(122,.5537),(121,.5451),(121.4,.5322),(117.3,.5291),
    (119.2,.5256),(121.4,.5235),(121,.5127),(122.3,.5062),(121,.4975),(122.3,.4932),(123.5,.4975),(124.2,.4900),(118.8,.4780),(121.8,.4824),(122.3,.4711),(119.7,.4659),(122.7,.4651),(119.7,.4563),(125.3,.4651),(122.7,.4563),(124.4,.4586),(125.7,.4544),
    (123.1,.4478),(121,.4456),(122.3,.4391),(121.2,.4370),(118.1,.4305),(118,.4240),(121.2,.4210),(125.3,.4283),(122.1,.4292),(124.4,.4154),(125.3,.4120),(123.1,.4037),(124,.4011),(123.9,.3937),(122.2,.3907),(122.1,.3830),(124,.3860),(124.3,.3765),(124,.3687)]


def flatten(columns):
    xs, ys = [], []
    for pos, vals in columns:
        for v in vals:
            xs.append(pos)
            ys.append(v)
    return xs, ys

W, H = 1822, 3286
fig = plt.figure(figsize=(W / 100, H / 100), dpi=100)

black = '#222222'

def panel(left, right, top, bottom, x0, px_mb, ytop, ybot, yticks, ylabel, label_x, rug_lo, rug_hi, xs, ys, markers, fmt):
    # axes placed from the pixel box of the reference
    ax = fig.add_axes([left / W, 1 - bottom / H, (right - left) / W, (bottom - top) / H])
    ax.set_xlim((left - x0) / px_mb, (right - x0) / px_mb)
    ax.set_ylim(ybot, ytop)
    ax.scatter(xs, ys, s=80, color='black', linewidths=0, zorder=3, clip_on=False)
    ax.vlines(markers, rug_lo, rug_hi, color='#ff0000', lw=1.6, zorder=2)
    ax.set_xticks([25, 50, 75, 100, 125])
    ax.set_yticks(yticks)
    ax.set_yticklabels([fmt % t for t in yticks])
    for s in ['top', 'right']:
        ax.spines[s].set_visible(False)
    for s in ['left', 'bottom']:
        ax.spines[s].set_linewidth(2)
        ax.spines[s].set_color(black)
    ax.tick_params(length=5, width=1.6, color='#333333', labelsize=20, labelcolor='#1a1a1a', pad=4)
    ax.set_xlabel('Position (Mb)', fontsize=25, color='#111111', labelpad=10)
    ax.set_ylabel(ylabel, fontsize=25, color='#111111', va='center')
    ax.yaxis.set_label_coords((label_x - left) / (right - left), 0.5)
    return ax

conc_ticks = [0.80, 0.85, 0.90, 0.95, 1.00]
acc_ticks = [0.4, 0.6, 0.8, 1.0]

x, y = flatten(s1_conc)
panel(181.8, 902, 162, 1005, 176.2, 5.513, 1.0099, 0.7904, conc_ticks, 'Concordance rate', 84, 0.796, 0.8033, x, y, s1_markers, '%.2f')
x, y = flatten(s1_acc)
panel(1029.7, 1766.4, 162, 1005, 1023.9, 5.65, 1.0322, 0.3178, acc_ticks, 'Accuracy', 950, 0.3364, 0.3602, x, y, s1_markers, '%.1f')
x, y = flatten(s2_conc)
panel(225.1, 943.9, 1266, 2110, 220.3, 5.522, 1.0102, 0.7902, conc_ticks, 'Concordance rate', 126, 0.796, 0.8033, x, y, s2_markers, '%.2f')
x, y = flatten(s2_acc)
panel(1072.5, 1809, 1266, 2110, 1068.3, 5.639, 1.033, 0.3197, acc_ticks, 'Accuracy', 992, 0.3364, 0.3602, x, y, s2_markers, '%.1f')
pts = np.array(s3_conc)
panel(225.1, 944, 2353, 3197, 220.3, 5.52, 1.0099, 0.7901, conc_ticks, 'Concordance rate', 126, 0.796, 0.8033, pts[:, 0], pts[:, 1], s3_markers, '%.2f')
pts = np.array(s3_acc)
panel(1072.5, 1809, 2353, 3197, 1068.3, 5.645, 1.033, 0.3178, acc_ticks, 'Accuracy', 992, 0.3364, 0.3602, pts[:, 0], pts[:, 1], s3_markers, '%.1f')

titles = ['Scenario1', 'Scenario 2', 'Scenario 3']
title_y = [92, 1164, 2275]
for t, ty in zip(titles, title_y):
    fig.text(994 / W, 1 - ty / H, t, fontsize=71, fontweight='bold', family=['Lato', 'DejaVu Sans'], ha='center', va='center', color='black')

fig.savefig('out.png', dpi=100, facecolor='white')
